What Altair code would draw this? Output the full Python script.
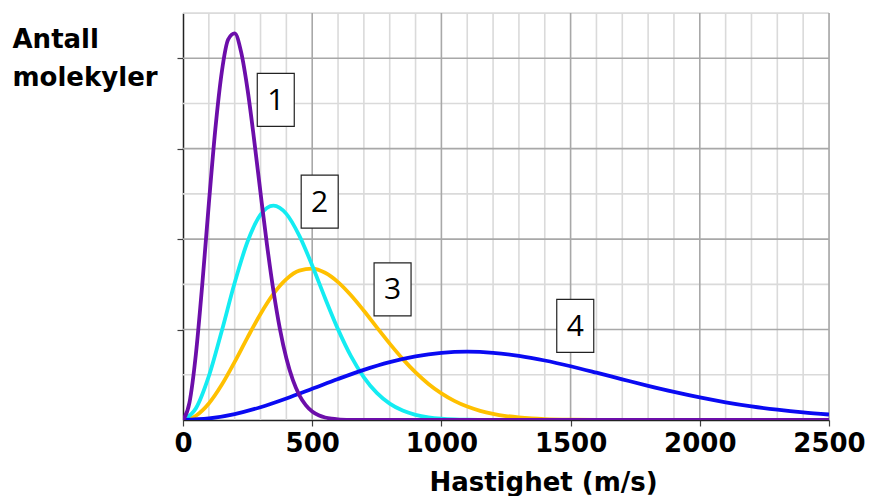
import altair as alt
import pandas as pd

# ---- data (speed m/s, relative number of molecules) ----
c1_speed = [0, 25, 50, 75, 100, 125, 150, 175, 200, 225, 250, 275, 300, 325, 350, 375,
            400, 425, 450, 475, 500, 525, 550, 575, 600, 650, 700, 2500]
c1_value = [0, 0.384, 1.462, 3.025, 4.782, 6.424, 7.692, 8.417, 8.548, 8.134, 7.300, 6.210,
            5.024, 3.876, 2.858, 2.016, 1.364, 0.885, 0.552, 0.330, 0.190, 0.105, 0.056,
            0.029, 0.014, 0.003, 0, 0]

c2_speed = [0, 50, 100, 150, 200, 250, 300, 350, 400, 450, 500, 550, 600, 650, 700, 750,
            800, 850, 900, 950, 1000, 1050, 1100, 1200, 1300, 2500]
c2_value = [0, 0.258, 0.969, 1.969, 3.035, 3.947, 4.540, 4.740, 4.558, 4.077, 3.417, 2.693,
            2.004, 1.412, 0.944, 0.599, 0.362, 0.209, 0.115, 0.060, 0.030, 0.014, 0.0065,
            0.001, 0, 0]

c3_speed = [0, 50, 100, 150, 200, 250, 300, 350, 400, 450, 500, 550, 600, 650, 700, 750,
            800, 850, 900, 950, 1000, 1050, 1100, 1150, 1200, 1250, 1300, 1350, 1400, 1500,
            1600, 1700, 2500]
c3_value = [0, 0.094, 0.364, 0.777, 1.284, 1.827, 2.346, 2.789, 3.116, 3.304, 3.347, 3.255,
            3.049, 2.758, 2.415, 2.049, 1.689, 1.352, 1.053, 0.798, 0.589, 0.424, 0.297,
            0.203, 0.136, 0.088, 0.056, 0.035, 0.021, 0.007, 0.002, 0, 0]

c4_speed = [0, 100, 200, 300, 400, 500, 600, 700, 800, 900, 1000, 1100, 1200, 1300, 1400,
            1500, 1600, 1700, 1800, 1900, 2000, 2100, 2200, 2300, 2400, 2500]
c4_value = [0, 0.034, 0.131, 0.283, 0.476, 0.690, 0.907, 1.109, 1.279, 1.407, 1.484, 1.510,
            1.486, 1.418, 1.316, 1.189, 1.047, 0.900, 0.755, 0.620, 0.498, 0.391, 0.301,
            0.227, 0.167, 0.121]

label_text = ["1", "2", "3", "4"]
label_speed = [359, 529, 811, 1518]
label_value = [7.08, 4.83, 2.89, 2.08]

x_ticks = [0, 500, 1000, 1500, 2000, 2500]
x_minor = [100, 200, 300, 400, 600, 700, 800, 900, 1100, 1200, 1300, 1400, 1600, 1700,
           1800, 1900, 2100, 2200, 2300, 2400]
x_major = [500, 1000, 1500, 2000, 2500]
y_ticks = [2, 4, 6, 8]
y_minor = [1, 3, 5, 7, 9]
y_major = [2, 4, 6, 8]

FONT = "DejaVu Sans"
XT = "Hastighet (m/s)"
YT = ["Antall", "molekyler"]
xs = alt.Scale(domain=[0, 2500], nice=False, zero=True)
ys = alt.Scale(domain=[0, 9], nice=False, zero=True)

MINOR = "#dadada"
MAJOR = "#a8a8a8"

axes = alt.Chart(pd.DataFrame({"s": [0], "n": [0]})).mark_point(opacity=0).encode(
    x=alt.X("s:Q", scale=xs, title=XT,
            axis=alt.Axis(values=x_ticks, grid=False, format="d",
                          labelFont=FONT, labelFontWeight="bold", labelFontSize=26,
                          labelColor="black", labelPadding=4, labelFlush=False,
                          tickColor="#404040", tickSize=6, tickWidth=1.2,
                          domainColor="#222222", domainWidth=1.5,
                          titleFont=FONT, titleFontWeight="bold",
                          titleFontSize=26, titleColor="black", titleX=360, titleY=70,
                          titleBaseline="alphabetic", titleAlign="center")),
    y=alt.Y("n:Q", scale=ys, title=YT,
            axis=alt.Axis(values=y_ticks, grid=False, labels=False,
                          tickColor="#404040", tickSize=6, tickWidth=1.2,
                          domainColor="#222222", domainWidth=1.5,
                          titleFont=FONT,
                          titleFontWeight="bold", titleFontSize=26, titleColor="black",
                          titleAngle=0, titleAlign="left", titleBaseline="alphabetic",
                          titleX=-171, titleY=34, titleLineHeight=38)),
)

def vgrid(vals, color):
    return alt.Chart(pd.DataFrame({"s": vals})).mark_rule(color=color, strokeWidth=1.6).encode(
        x=alt.X("s:Q", scale=xs, title=XT))

def hgrid(vals, color):
    return alt.Chart(pd.DataFrame({"n": vals})).mark_rule(color=color, strokeWidth=1.6).encode(
        y=alt.Y("n:Q", scale=ys, title=YT))

def curve(sp, vl, color):
    return alt.Chart(pd.DataFrame({"s": sp, "n": vl})).mark_line(
        color=color, strokeWidth=3.8, interpolate="monotone", clip=True).encode(
        x=alt.X("s:Q", scale=xs, title=XT),
        y=alt.Y("n:Q", scale=ys, title=YT))

lab_df = pd.DataFrame({"t": label_text, "s": label_speed, "n": label_value})
boxes = alt.Chart(lab_df).mark_point(
    shape="M-0.698,-1L0.698,-1L0.698,1L-0.698,1Z", size=2809, filled=True,
    fill="white", stroke="#222222", strokeWidth=1.2, opacity=1).encode(
    x=alt.X("s:Q", scale=xs, title=XT), y=alt.Y("n:Q", scale=ys, title=YT))
texts = alt.Chart(lab_df).mark_text(font="Open Sans", fontSize=30, color="black",
                                    baseline="middle", align="center", dy=1).encode(
    x=alt.X("s:Q", scale=xs, title=XT), y=alt.Y("n:Q", scale=ys, title=YT), text="t:N")

chart = alt.layer(
    axes,
    vgrid(x_minor, MINOR), hgrid(y_minor, MINOR),
    vgrid(x_major, MAJOR), hgrid(y_major, MAJOR),
    curve(c3_speed, c3_value, "#ffc000"),
    curve(c2_speed, c2_value, "#14ecf2"),
    curve(c4_speed, c4_value, "#0a0af2"),
    curve(c1_speed, c1_value, "#6c0eaa"),
    boxes, texts,
).properties(
    width=646, height=407,
    autosize=alt.AutoSizeParams(type="none"),
    padding={"left": 175, "top": 5, "right": 38, "bottom": 76},
).configure_view(stroke=None).configure(background="white")

chart.save("out.html", embed_options={"renderer": "svg", "actions": False})
